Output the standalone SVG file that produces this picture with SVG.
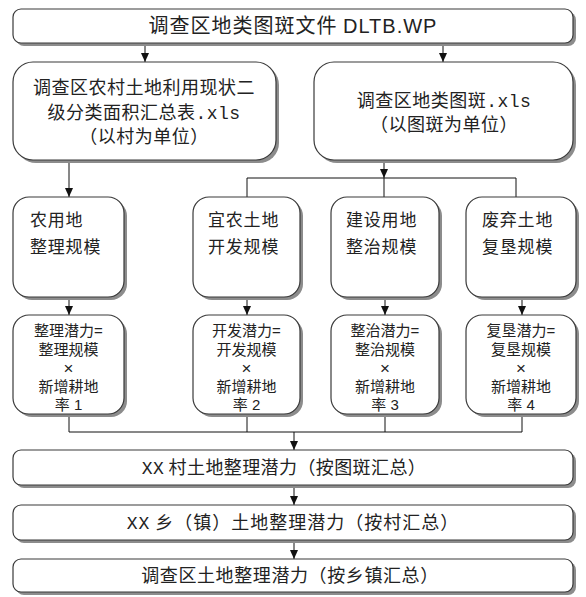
<svg xmlns="http://www.w3.org/2000/svg" width="586" height="597" viewBox="0 0 586 597">
<style>
.box{fill:#fff;stroke:#3a3a3a;stroke-width:1.2}
.sh{fill:#8c8c8c;stroke:none}
.t{font-family:"Noto Sans CJK SC","Noto Sans",sans-serif;fill:#222}
.c{text-anchor:middle}
.p{font-family:"Liberation Sans","Noto Sans CJK SC",sans-serif;font-size:15px;text-anchor:middle;fill:#222}
.x{font-size:17px}
.m{font-family:"Liberation Mono",monospace}
.a{font-family:"Liberation Sans",Arial,sans-serif}
.ln{stroke:#111;stroke-width:1;fill:none}
</style>
<defs>
<marker id="ah" markerWidth="10" markerHeight="10" refX="9" refY="5" orient="auto" markerUnits="userSpaceOnUse">
<path d="M0,1 L9,5 L0,9 Z" fill="#111"/>
</marker>
</defs>
<rect width="586" height="597" fill="#fff"/>

<g id="connectors">
<line class="ln" x1="145" y1="43" x2="145" y2="62" marker-end="url(#ah)"/>
<line class="ln" x1="443" y1="43" x2="443" y2="62" marker-end="url(#ah)"/>
<line class="ln" x1="69" y1="160" x2="69" y2="197" marker-end="url(#ah)"/>
<line class="ln" x1="384" y1="160" x2="384" y2="178" marker-end="url(#ah)"/>
<path class="ln" d="M247,197 V178 H516 V197 M384,178 V197"/>
<line class="ln" x1="69" y1="297" x2="69" y2="315" marker-end="url(#ah)"/>
<line class="ln" x1="247" y1="297" x2="247" y2="315" marker-end="url(#ah)"/>
<line class="ln" x1="385" y1="297" x2="385" y2="315" marker-end="url(#ah)"/>
<line class="ln" x1="522" y1="297" x2="522" y2="315" marker-end="url(#ah)"/>
<path class="ln" d="M69,414 V432 H522 V414 M247,414 V432 M385,414 V432"/>
<line class="ln" x1="294" y1="432" x2="294" y2="450" marker-end="url(#ah)"/>
<line class="ln" x1="294" y1="485" x2="294" y2="505" marker-end="url(#ah)"/>
<line class="ln" x1="294" y1="540" x2="294" y2="559" marker-end="url(#ah)"/>
</g>

<g id="top">
<rect class="sh" x="16" y="12" width="560" height="34" rx="8"/>
<rect class="box" x="13" y="9" width="560" height="34" rx="8"/>
<text class="t c" x="293" y="33" font-size="20" letter-spacing="1">调查区地类图斑文件 <tspan class="a">DLTB.WP</tspan></text>
</g>

<g id="summary-village">
<rect class="sh" x="16" y="65" width="263" height="98" rx="20"/>
<rect class="box" x="13" y="62" width="263" height="98" rx="20"/>
<text class="t c" x="144" y="94" font-size="18" letter-spacing="0.5">调查区农村土地利用现状二</text>
<text class="t c" x="144" y="119" font-size="18" letter-spacing="0.5">级分类面积汇总表<tspan class="m">.xls</tspan></text>
<text class="t c" x="144" y="143" font-size="18" letter-spacing="0.5">（以村为单位）</text>
</g>

<g id="patch-xls">
<rect class="sh" x="317" y="65" width="259" height="98" rx="20"/>
<rect class="box" x="314" y="62" width="259" height="98" rx="20"/>
<text class="t c" x="444" y="107" font-size="18" letter-spacing="0.5">调查区地类图斑<tspan class="m">.xls</tspan></text>
<text class="t c" x="444" y="131" font-size="18" letter-spacing="0.5">（以图斑为单位）</text>
</g>

<g id="scale1">
<rect class="sh" x="16" y="200" width="111" height="100" rx="16"/>
<rect class="box" x="13" y="197" width="111" height="100" rx="16"/>
<text class="t" x="30" y="226" font-size="17" letter-spacing="0.8">农用地</text>
<text class="t" x="30" y="253" font-size="17" letter-spacing="0.8">整理规模</text>
</g>
<g id="scale2">
<rect class="sh" x="196" y="200" width="107" height="100" rx="16"/>
<rect class="box" x="193" y="197" width="107" height="100" rx="16"/>
<text class="t" x="208" y="226" font-size="17" letter-spacing="0.8">宜农土地</text>
<text class="t" x="208" y="253" font-size="17" letter-spacing="0.8">开发规模</text>
</g>
<g id="scale3">
<rect class="sh" x="334" y="200" width="108" height="100" rx="16"/>
<rect class="box" x="331" y="197" width="108" height="100" rx="16"/>
<text class="t" x="346" y="226" font-size="17" letter-spacing="0.8">建设用地</text>
<text class="t" x="346" y="253" font-size="17" letter-spacing="0.8">整治规模</text>
</g>
<g id="scale4">
<rect class="sh" x="469" y="200" width="110" height="100" rx="16"/>
<rect class="box" x="466" y="197" width="110" height="100" rx="16"/>
<text class="t" x="482" y="226" font-size="17" letter-spacing="0.8">废弃土地</text>
<text class="t" x="482" y="253" font-size="17" letter-spacing="0.8">复垦规模</text>
</g>

<g id="pot1">
<rect class="sh" x="16" y="318" width="111" height="99" rx="16"/>
<rect class="box" x="13" y="315" width="111" height="99" rx="16"/>
<text class="p" x="68.5" y="336">整理潜力=</text>
<text class="p" x="68.5" y="354.5">整理规模</text>
<text class="p x" x="68.5" y="374">×</text>
<text class="p" x="68.5" y="391.5">新增耕地</text>
<text class="p" x="68.5" y="410">率 1</text>
</g>
<g id="pot2">
<rect class="sh" x="196" y="318" width="107" height="99" rx="16"/>
<rect class="box" x="193" y="315" width="107" height="99" rx="16"/>
<text class="p" x="246.5" y="336">开发潜力=</text>
<text class="p" x="246.5" y="354.5">开发规模</text>
<text class="p x" x="246.5" y="374">×</text>
<text class="p" x="246.5" y="391.5">新增耕地</text>
<text class="p" x="246.5" y="410">率 2</text>
</g>
<g id="pot3">
<rect class="sh" x="334" y="318" width="108" height="99" rx="16"/>
<rect class="box" x="331" y="315" width="108" height="99" rx="16"/>
<text class="p" x="385" y="336">整治潜力=</text>
<text class="p" x="385" y="354.5">整治规模</text>
<text class="p x" x="385" y="374">×</text>
<text class="p" x="385" y="391.5">新增耕地</text>
<text class="p" x="385" y="410">率 3</text>
</g>
<g id="pot4">
<rect class="sh" x="469" y="318" width="110" height="99" rx="16"/>
<rect class="box" x="466" y="315" width="110" height="99" rx="16"/>
<text class="p" x="521" y="336">复垦潜力=</text>
<text class="p" x="521" y="354.5">复垦规模</text>
<text class="p x" x="521" y="374">×</text>
<text class="p" x="521" y="391.5">新增耕地</text>
<text class="p" x="521" y="410">率 4</text>
</g>

<g id="village-total">
<rect class="sh" x="16" y="453" width="560" height="35" rx="8"/>
<rect class="box" x="13" y="450" width="560" height="35" rx="8"/>
<text class="t c" x="284" y="474" font-size="18" letter-spacing="0.4"><tspan class="m">XX</tspan> 村土地整理潜力（按图斑汇总）</text>
</g>
<g id="town-total">
<rect class="sh" x="16" y="508" width="560" height="35" rx="8"/>
<rect class="box" x="13" y="505" width="560" height="35" rx="8"/>
<text class="t c" x="293" y="529" font-size="18" letter-spacing="1"><tspan class="m">XX</tspan> 乡（镇）土地整理潜力（按村汇总）</text>
</g>
<g id="area-total">
<rect class="sh" x="16" y="562" width="560" height="33" rx="8"/>
<rect class="box" x="13" y="559" width="560" height="33" rx="8"/>
<text class="t c" x="290" y="582" font-size="18" letter-spacing="0.6">调查区土地整理潜力（按乡镇汇总）</text>
</g>
</svg>
